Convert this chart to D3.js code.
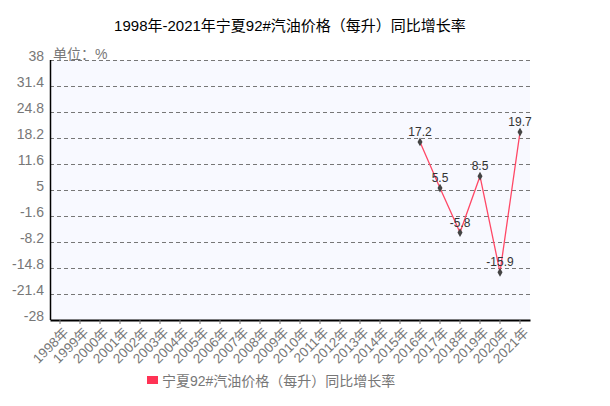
<!DOCTYPE html>
<html>
<head>
<meta charset="utf-8">
<script src="https://cdn.jsdelivr.net/npm/d3@7/dist/d3.min.js"></script>
<style>
  body { margin: 0; background: #fff; }
  svg { display: block; font-family: "Liberation Sans", "Noto Sans CJK SC", sans-serif; }
</style>
</head>
<body>
<div id="chart"></div>
<script>
// data
var years = ["1998年","1999年","2000年","2001年","2002年","2003年","2004年","2005年","2006年","2007年","2008年","2009年",
             "2010年","2011年","2012年","2013年","2014年","2015年","2016年","2017年","2018年","2019年","2020年","2021年"];
var rates = [null,null,null,null,null,null,null,null,null,null,null,null,
             null,null,null,null,null,null,17.2,5.5,-5.8,8.5,-15.9,19.7];
var yTicks = [38,31.4,24.8,18.2,11.6,5,-1.6,-8.2,-14.8,-21.4,-28];
var seriesName = "宁夏92#汽油价格（每升）同比增长率";
var title = "1998年-2021年宁夏92#汽油价格（每升）同比增长率";

var W = 610, H = 406;
var margin = {top: 60, right: 80, bottom: 86, left: 50};
var width = W - margin.left - margin.right;
var height = H - margin.top - margin.bottom;

var svg = d3.select("#chart").append("svg").attr("width", W).attr("height", H);

svg.append("text").attr("x", 290).attr("y", 31).attr("text-anchor", "middle")
  .attr("font-size", 15).attr("fill", "#000").text(title);

var g = svg.append("g").attr("transform", "translate(" + margin.left + "," + margin.top + ")");

var x = d3.scaleBand().domain(years).range([0, width]);
var y = d3.scaleLinear().domain([-28, 38]).range([height, 0]);

g.append("rect").attr("width", width).attr("height", height).attr("fill", "#f8f9ff");

// grid
g.selectAll(".grid").data(yTicks.slice(0, -1)).enter().append("line")
  .attr("x1", 0).attr("x2", width)
  .attr("y1", function(d){ return Math.round(y(d)) + 0.5; })
  .attr("y2", function(d){ return Math.round(y(d)) + 0.5; })
  .attr("stroke", "#777").attr("stroke-dasharray", "4,3");

// y labels
g.selectAll(".ylab").data(yTicks).enter().append("text")
  .attr("x", -6).attr("y", function(d){ return y(d) + 0.5; })
  .attr("text-anchor", "end").attr("font-size", 14).attr("fill", "#777")
  .text(function(d){ return d; });

g.append("text").attr("x", 3).attr("y", -1).attr("font-size", 14).attr("fill", "#777").text("单位：%");

// x axis
var xAxis = g.append("g").attr("transform", "translate(0," + height + ")")
  .call(d3.axisBottom(x).tickSize(4).tickSizeOuter(0));
xAxis.select(".domain").attr("stroke", "#000").attr("stroke-width", 2);
xAxis.selectAll(".tick line").attr("stroke", "#777");
xAxis.selectAll(".tick text")
  .attr("font-size", 13.5).attr("fill", "#777").attr("font-family", "Liberation Sans, Noto Sans CJK SC, sans-serif")
  .attr("text-anchor", "end").attr("dy", "0.35em").attr("dx", "0")
  .attr("transform", "translate(6,10) rotate(-45)").attr("y", 0).attr("x", 0);

// left axis line
g.append("line").attr("x1", 0.5).attr("x2", 0.5).attr("y1", 0).attr("y2", height)
  .attr("stroke", "#000").attr("stroke-width", 1.5);

// series
var pts = years.map(function(d, i){ return {k: d, v: rates[i]}; }).filter(function(d){ return d.v !== null; });
var line = d3.line().x(function(d){ return x(d.k) + x.bandwidth() / 2; }).y(function(d){ return y(d.v); });
g.append("path").datum(pts).attr("d", line).attr("fill", "none").attr("stroke", "#ff4866").attr("stroke-width", 1.3);

g.selectAll(".pt").data(pts).enter().append("path")
  .attr("d", d3.symbol().type(d3.symbolDiamond).size(22))
  .attr("transform", function(d){ return "translate(" + (x(d.k) + x.bandwidth() / 2) + "," + y(d.v) + ")"; })
  .attr("fill", "#444");

g.selectAll(".lab").data(pts).enter().append("text")
  .attr("x", function(d){ return x(d.k) + x.bandwidth() / 2; })
  .attr("y", function(d){ return y(d.v) - 6; })
  .attr("text-anchor", "middle").attr("font-size", 12).attr("fill", "#333")
  .text(function(d){ return d.v; });

// legend
svg.append("rect").attr("x", 147).attr("y", 376).attr("width", 11).attr("height", 8).attr("fill", "#ff3355");
svg.append("text").attr("x", 162).attr("y", 386).attr("font-size", 14).attr("fill", "#777").text(seriesName);
</script>
</body>
</html>
